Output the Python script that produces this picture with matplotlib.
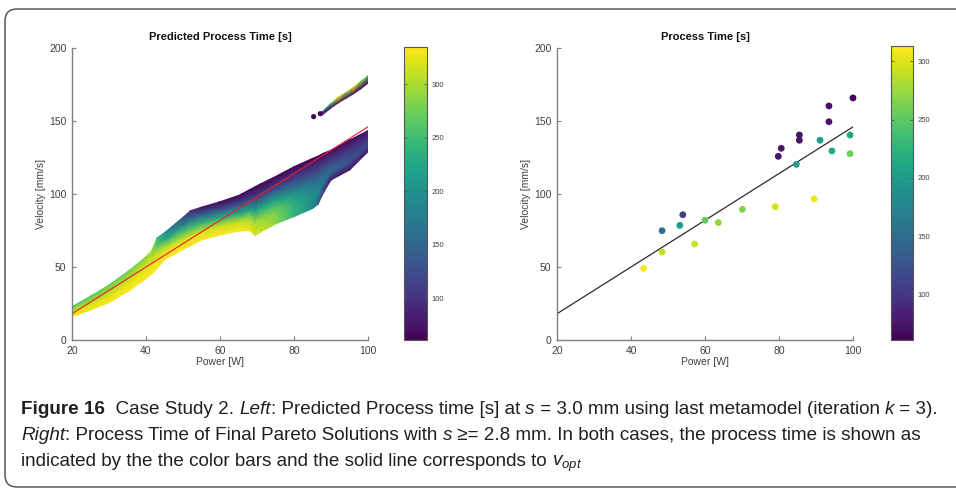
import numpy as np
import matplotlib
matplotlib.use('Agg')
import matplotlib.pyplot as plt
from matplotlib.patches import FancyBboxPatch

# ---- left panel: predicted process time band (columns of nodes, bottom edge -> top edge)
band_power = [20, 25, 30, 35, 40, 41.5, 43, 45, 50, 52, 55, 60, 65, 68, 69.5, 71, 75, 80, 85, 86.5, 88, 90, 95, 100]
band_v_low = [16, 20.5, 25.6, 33, 42, 45, 49, 55, 62, 64.5, 68.5, 72, 74.5, 75, 71.5, 74, 79.5, 84.5, 90, 93, 101, 109.6, 116.4, 129]
band_v_up = [22.8, 30, 37.7, 46.8, 57, 61, 70, 73.5, 84, 88.5, 91, 94.7, 99, 103, 105, 107, 112, 118.7, 124.4, 126, 128, 130, 137, 143.4]
band_time = [
	[330, 325, 310, 285, 255],
	[330, 325, 310, 290, 265],
	[332, 328, 312, 292, 270],
	[332, 328, 315, 295, 275],
	[333, 330, 320, 305, 285],
	[333, 330, 322, 310, 300],
	[333, 330, 310, 265, 250],
	[335, 330, 295, 230, 200],
	[335, 325, 270, 190, 130],
	[335, 320, 255, 170, 95],
	[335, 318, 245, 150, 75],
	[335, 315, 235, 135, 68],
	[335, 312, 225, 125, 66],
	[330, 305, 220, 120, 66],
	[320, 300, 220, 120, 66],
	[315, 295, 225, 120, 66],
	[290, 280, 220, 120, 66],
	[240, 235, 190, 115, 66],
	[190, 200, 165, 110, 66],
	[150, 190, 160, 108, 66],
	[100, 170, 150, 105, 66],
	[80, 150, 135, 100, 68],
	[75, 130, 120, 95, 68],
	[80, 115, 110, 95, 75],
]

# small separate band at high velocity
island_power = [87.5, 90, 92, 94, 96, 98, 100]
island_v_low = [154, 159, 162.5, 165.5, 168.5, 172, 176]
island_v_up = [156, 162, 166.5, 169.5, 173, 177, 181]
island_t_low = [66, 70, 75, 75, 72, 70, 66]
island_t_up = [150, 250, 330, 280, 320, 280, 270]

dot_power = [85.3, 87.1]
dot_v = [153, 155]
dot_time = [62, 66]

# optimal velocity line
opt_power = [20, 100]
opt_v = [18, 146]

# ---- right panel: final pareto solutions
pareto_power = [43.4, 48.4, 48.4, 53.2, 54.0, 57.2, 60.0, 63.6, 70.1, 79.0, 79.8, 80.6,
	84.7, 85.5, 85.5, 89.5, 91.1, 93.5, 93.5, 94.3, 99.2, 99.2, 100]
pareto_v = [49.1, 74.9, 60.3, 78.5, 85.8, 65.8, 82, 80.4, 89.5, 91.3, 125.8, 131.3,
	120.3, 140.4, 136.8, 96.6, 136.8, 160.3, 149.5, 129.5, 140.4, 127.6, 165.8]
pareto_time = [312, 150, 290, 200, 110, 295, 250, 270, 265, 295, 75, 75,
	205, 70, 75, 308, 200, 70, 72, 215, 210, 255, 62]

left_clim = (61, 335)
right_clim = (61, 313)
cbar_ticks = [100, 150, 200, 250, 300]

AX_GRAY = '#808080'
TXT_GRAY = '#404040'
plt.rcParams['font.family'] = ['Liberation Sans', 'DejaVu Sans']
plt.rcParams['mathtext.fontset'] = 'custom'
plt.rcParams['mathtext.it'] = 'Liberation Sans:italic'
plt.rcParams['mathtext.rm'] = 'Liberation Sans'


def style_axes(ax, title):
	ax.set_xlim(20, 100)
	ax.set_ylim(0, 200)
	ax.set_xticks([20, 40, 60, 80, 100])
	ax.set_yticks([0, 50, 100, 150, 200])
	for s in ['top', 'right']:
		ax.spines[s].set_visible(False)
	for s in ['left', 'bottom']:
		ax.spines[s].set_color(AX_GRAY)
		ax.spines[s].set_linewidth(1.0)
	ax.tick_params(direction='in', length=3, width=0.8, colors=AX_GRAY,
		labelcolor=TXT_GRAY, labelsize=7.5, pad=4)
	ax.set_xlabel('Power [W]', fontsize=7.5, color=TXT_GRAY, labelpad=1)
	ax.set_ylabel('Velocity [mm/s]', fontsize=7.5, color=TXT_GRAY, labelpad=2)
	ax.set_title(title, fontsize=8, fontweight='bold', pad=6, color='#111111')


def style_cbar(cb):
	cb.set_ticks(cbar_ticks)
	cb.outline.set_edgecolor('#555555')
	cb.outline.set_linewidth(0.8)
	cb.ax.tick_params(direction='in', length=2, width=0.6, colors='#555555',
		labelcolor=TXT_GRAY, labelsize=5.5, left=True, right=True, pad=3)


fig = plt.figure(figsize=(9.56, 4.9), dpi=100)

# ---- left
ax1 = fig.add_axes([72 / 956, 150 / 490, 296 / 956, 292 / 490])
fracs = np.array([0, 0.25, 0.5, 0.75, 1.0])
P = np.array(band_power)[:, None] * np.ones(len(fracs))
lo = np.array(band_v_low)[:, None]
up = np.array(band_v_up)[:, None]
V = lo + fracs[None, :] * (up - lo)
mesh = ax1.pcolormesh(P, V, np.array(band_time, dtype=float), shading='gouraud',
	cmap='viridis', vmin=left_clim[0], vmax=left_clim[1])

Pi = np.array([island_power, island_power]).T
Vi = np.array([island_v_low, island_v_up]).T
Ti = np.array([island_t_low, island_t_up], dtype=float).T
ax1.pcolormesh(Pi, Vi, Ti, shading='gouraud', cmap='viridis', vmin=left_clim[0], vmax=left_clim[1])
ax1.scatter(dot_power, dot_v, c=dot_time, cmap='viridis', vmin=left_clim[0], vmax=left_clim[1],
	s=14, linewidths=0)
ax1.plot(opt_power, opt_v, color='#e8202a', lw=0.8)
style_axes(ax1, 'Predicted Process Time [s]')

cax1 = fig.add_axes([404 / 956, 150 / 490, 23 / 956, 293 / 490])
cb1 = fig.colorbar(mesh, cax=cax1)
style_cbar(cb1)

# ---- right
ax2 = fig.add_axes([557 / 956, 150 / 490, 296 / 956, 292 / 490])
ax2.plot(opt_power, opt_v, color='#2b2b2b', lw=0.9, zorder=1)
sc = ax2.scatter(pareto_power, pareto_v, c=pareto_time, cmap='viridis',
	vmin=right_clim[0], vmax=right_clim[1], s=24, linewidths=0, zorder=2, clip_on=False)
style_axes(ax2, 'Process Time [s]')

cax2 = fig.add_axes([891 / 956, 150 / 490, 22 / 956, 294 / 490])
cb2 = fig.colorbar(sc, cax=cax2)
style_cbar(cb2)

# ---- rounded frame
frame = FancyBboxPatch((5, 3), 1000, 478, boxstyle='round,pad=0,rounding_size=12',
	transform=None, fill=False, edgecolor='#4a4a4a', lw=1.0)
fig.add_artist(frame)

# ---- caption
cap_family = ['Liberation Sans', 'DejaVu Sans']

lines = [
	[('Figure 16', 'bold'), ('  Case Study 2. ', 'normal'), ('Left', 'italic'),
	 (': Predicted Process time [s] at ', 'normal'), ('s', 'italic'),
	 (' = 3.0 mm using last metamodel (iteration ', 'normal'), ('k', 'italic'), (' = 3).', 'normal')],
	[('Right', 'italic'), (': Process Time of Final Pareto Solutions with ', 'normal'), ('s', 'italic'),
	 (' \u2265= 2.8 mm. In both cases, the process time is shown as', 'normal')],
	[('indicated by the the color bars and the solid line corresponds to ', 'normal'),
	 ('$v_{opt}$', 'italic')],
]
line_y = [410, 436, 462]
renderer = fig.canvas.get_renderer()


def seg_width(txt, style, size):
	kw = dict(fontsize=size, family=cap_family)
	if style == 'bold':
		kw['fontweight'] = 'bold'
	if style == 'italic':
		kw['fontstyle'] = 'italic'
	t1 = fig.text(0, 0, '|' + txt + '|', **kw)
	t2 = fig.text(0, 0, '||', **kw)
	w = t1.get_window_extent(renderer).width - t2.get_window_extent(renderer).width
	t1.remove()
	t2.remove()
	return w


# fit the first caption line to the width it has in the figure
test_size = 12
w0 = sum(seg_width(t, s, test_size) for t, s in lines[0])
cap_size = test_size * (940 - 21) / w0

for segs, y in zip(lines, line_y):
	x = 21
	for txt, style in segs:
		kw = dict(fontsize=cap_size, family=cap_family, color='#231f20', va='baseline')
		if style == 'bold':
			kw['fontweight'] = 'bold'
		if style == 'italic':
			kw['fontstyle'] = 'italic'
		fig.text(x / 956, 1 - (y + 4) / 490, txt, **kw)
		x += seg_width(txt, style, cap_size)

fig.savefig('out.png', dpi=100)
